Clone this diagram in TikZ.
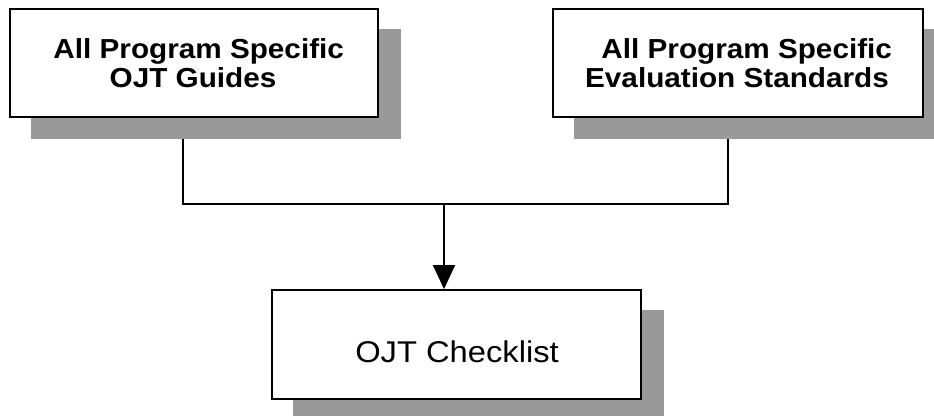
\documentclass[tikz,border=0pt]{standalone}
\usepackage{fontspec}
\setmainfont{Liberation Sans}
\usetikzlibrary{arrows.meta,calc}
\pgfdeclarelayer{bg}
\pgfdeclarelayer{shad}
\pgfsetlayers{bg,shad,main}
\definecolor{shadowgray}{HTML}{999999}
\begin{document}
\begin{tikzpicture}[x=1pt,y=-1pt,
  box/.style={draw=black, fill=white, line width=1.8pt, inner sep=0pt, minimum height=108pt},
  toptext/.style={inner sep=0pt, anchor=base, font=\bfseries\fontsize{27.5}{30}\selectfont},
  bottext/.style={inner sep=0pt, anchor=base, font=\fontsize{30}{34}\selectfont},
  conn/.style={draw=black, line width=1.5pt},
  shadowbox/.style={fill=shadowgray}]
\clip (0,0) rectangle (934,415);
% boxes
\node[box, minimum width=368pt] (A) at (194,63) {};
\node[box, minimum width=370pt] (B) at (738,63) {};
\node[box, minimum width=369pt, minimum height=109pt] (C) at (456.5,344.5) {};
% texts
\node[toptext] (a1) at (198.7,58) {\scalebox{1.08}[1]{All Program Specific}};
\node[toptext] (a2) at (193,87.5) {\scalebox{1.08}[1]{OJT Guides}};
\node[toptext] (b1) at (746.7,58) {\scalebox{1.08}[1]{All Program Specific}};
\node[toptext] (b2) at (737,87.5) {\scalebox{1.08}[1]{Evaluation Standards}};
\node[bottext] (c1) at (457,362) {\scalebox{1.09}[1]{OJT Checklist}};
% shadows
\begin{pgfonlayer}{shad}
\foreach \n in {A,B,C}
  \fill[shadowbox] ($(\n.south west)+(22,21)$) rectangle ($(\n.north east)+(22,21)$);
\end{pgfonlayer}
% connectors
\coordinate (J) at (444,204);
\begin{pgfonlayer}{bg}
\draw[conn] ([xshift=-11pt]A.south) |- (J) -| ([xshift=-10pt]B.south);
\end{pgfonlayer}
\draw[conn, -{Triangle[length=24pt,width=22pt]}] (J) -- ([xshift=-12.5pt]C.north);
\end{tikzpicture}
\end{document}
